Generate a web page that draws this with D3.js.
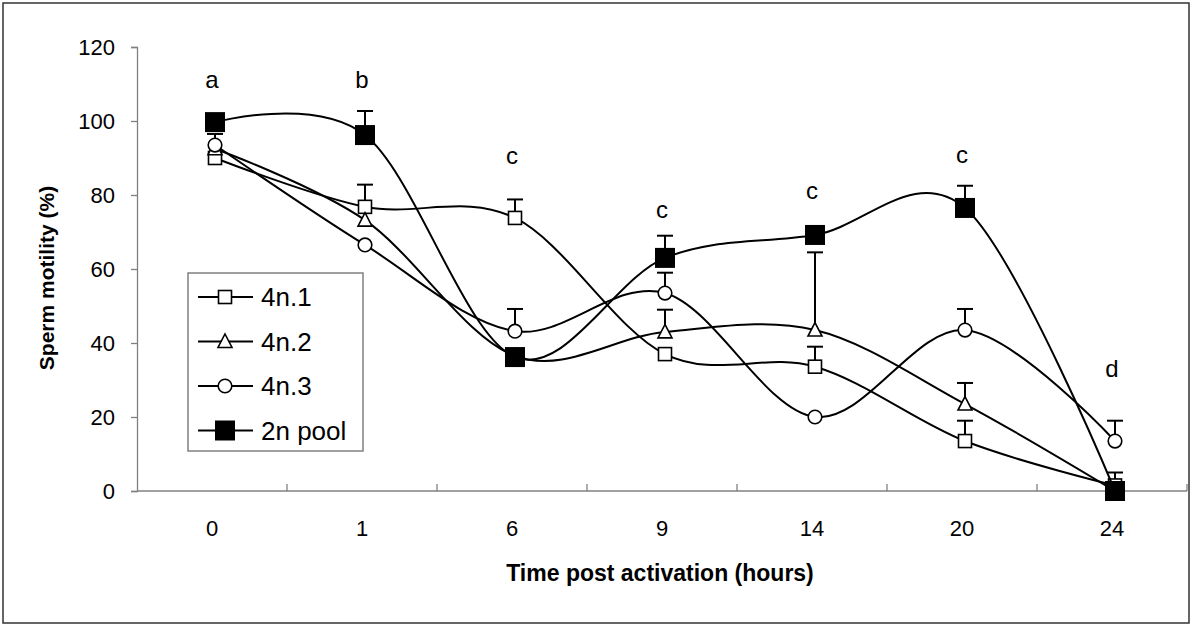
<!DOCTYPE html>
<html>
<head>
<meta charset="utf-8">
<script src="https://cdn.jsdelivr.net/npm/d3@7"></script>
<style>
  body { margin: 0; background: #fff; }
  svg { display: block; font-family: "Liberation Sans", Arial, sans-serif; }
</style>
</head>
<body>
<div id="chart"></div>
<script>
// data
const hours = ["0", "1", "6", "9", "14", "20", "24"];
const yTicks = [0, 20, 40, 60, 80, 100, 120];

const n1 = [90, 76.8, 73.8, 37, 33.6, 13.5, 1.5];
const n1Err = [null, 6, 5, 0, 5.4, 5.5, 3.5];
const n2 = [92.5, 73.2, 36.5, 43, 43.5, 23.5, 0];
const n2Err = [null, 0, 0, 6, 21, 5.7, 0];
const n3 = [93.5, 66.5, 43.2, 53.5, 20, 43.5, 13.5];
const n3Err = [3, 0, 6, 5.5, 0, 5.7, 5.5];
const pool = [99.7, 96.2, 36.2, 63, 69.2, 76.5, 0];
const poolErr = [0, 6.5, 0, 6, 0, 6, 0];

const letters = ["a", "b", "c", "c", "c", "c", "d"];
const letterY = [109, 109, 88.4, 73.8, 79, 88.6, 30.8];

const seriesNames = ["4n.1", "4n.2", "4n.3", "2n pool"];

const W = 1192, H = 625;
const svg = d3.select("#chart").append("svg").attr("width", W).attr("height", H);

// outer frame
svg.append("rect")
  .attr("x", 3).attr("y", 3).attr("width", W - 6).attr("height", H - 5)
  .attr("fill", "none").attr("stroke", "#333").attr("stroke-width", 1.5);

const x = d3.scaleBand().domain(hours).range([137, 1187]);
const y = d3.scaleLinear().domain([0, 120]).range([491, 47]);
const px = d => x(d) + x.bandwidth() / 2 + 3;

// y axis
const yAxis = svg.append("g").attr("transform", "translate(137,0)")
  .call(d3.axisLeft(y).tickValues(yTicks).tickSize(6).tickPadding(16));
yAxis.select(".domain").attr("stroke", "#808080").attr("stroke-width", 1.3);
yAxis.selectAll(".tick line").attr("stroke", "#808080").attr("stroke-width", 1.3);
yAxis.selectAll("text").attr("font-size", 22).attr("fill", "#000")
  .attr("font-family", "Liberation Sans, Arial");

// x axis line + boundary ticks
svg.append("line").attr("x1", 137).attr("x2", 1187).attr("y1", y(0)).attr("y2", y(0))
  .attr("stroke", "#808080").attr("stroke-width", 1.3);
svg.selectAll(".xt").data(hours).join("line")
  .attr("x1", d => x(d) + x.bandwidth()).attr("x2", d => x(d) + x.bandwidth())
  .attr("y1", y(0)).attr("y2", y(0) - 7)
  .attr("stroke", "#808080").attr("stroke-width", 1.3);
svg.selectAll(".xl").data(hours).join("text")
  .attr("x", d => x(d) + x.bandwidth() / 2).attr("y", 536)
  .attr("text-anchor", "middle").attr("font-size", 22).text(d => d);

svg.append("text").attr("x", 660).attr("y", 581).attr("text-anchor", "middle")
  .attr("font-size", 23).attr("font-weight", "bold").text("Time post activation (hours)");
svg.append("text").attr("transform", "translate(54,278) rotate(-90)")
  .attr("text-anchor", "middle").attr("font-size", 21).attr("font-weight", "bold")
  .text("Sperm motility (%)");

// significance letters
svg.selectAll(".let").data(letters).join("text")
  .attr("x", (d, i) => x(hours[i]) + x.bandwidth() / 2)
  .attr("y", (d, i) => y(letterY[i]))
  .attr("text-anchor", "middle").attr("font-size", 24).text(d => d);

const line = d3.line()
  .x((d, i) => px(hours[i]))
  .y(d => y(d))
  .curve(d3.curveCatmullRom.alpha(0));

const all = [
  {vals: n1, err: n1Err, shape: "sq"},
  {vals: n2, err: n2Err, shape: "tri"},
  {vals: n3, err: n3Err, shape: "circ"},
  {vals: pool, err: poolErr, shape: "big"}
];

function drawMarker(g, shape, cx, cy) {
  if (shape === "sq") {
    g.append("rect").attr("x", cx - 6.5).attr("y", cy - 6.5).attr("width", 13).attr("height", 13)
      .attr("fill", "#fff").attr("stroke", "#000").attr("stroke-width", 1.6);
  } else if (shape === "tri") {
    g.append("path").attr("d", `M${cx},${cy - 7.5}L${cx + 7},${cy + 6}L${cx - 7},${cy + 6}Z`)
      .attr("fill", "#fff").attr("stroke", "#000").attr("stroke-width", 1.6);
  } else if (shape === "circ") {
    g.append("circle").attr("cx", cx).attr("cy", cy).attr("r", 6.8)
      .attr("fill", "#fff").attr("stroke", "#000").attr("stroke-width", 1.6);
  } else {
    g.append("rect").attr("x", cx - 10).attr("y", cy - 10).attr("width", 20).attr("height", 20)
      .attr("fill", "#000");
  }
}

all.forEach(s => {
  const g = svg.append("g");
  g.append("path").attr("d", line(s.vals)).attr("fill", "none")
    .attr("stroke", "#000").attr("stroke-width", 2);
  s.vals.forEach((v, i) => {
    const e = s.err[i];
    if (e) {
      const cx = px(hours[i]);
      g.append("line").attr("x1", cx).attr("x2", cx).attr("y1", y(v)).attr("y2", y(v + e))
        .attr("stroke", "#000").attr("stroke-width", 2);
      g.append("line").attr("x1", cx - 8).attr("x2", cx + 8).attr("y1", y(v + e)).attr("y2", y(v + e))
        .attr("stroke", "#000").attr("stroke-width", 2);
    }
  });
  s.vals.forEach((v, i) => drawMarker(g, s.shape, px(hours[i]), y(v)));
});

// legend
const leg = svg.append("g");
leg.append("rect").attr("x", 188).attr("y", 273).attr("width", 175).attr("height", 178)
  .attr("fill", "#fff").attr("stroke", "#808080").attr("stroke-width", 1.5);
seriesNames.forEach((name, i) => {
  const ly = 297 + i * 44.5;
  leg.append("line").attr("x1", 198).attr("x2", 253).attr("y1", ly).attr("y2", ly)
    .attr("stroke", "#000").attr("stroke-width", 2);
  drawMarker(leg, all[i].shape, 225, ly);
  leg.append("text").attr("x", 261).attr("y", ly + 9).attr("font-size", 26).text(name);
});
</script>
</body>
</html>
